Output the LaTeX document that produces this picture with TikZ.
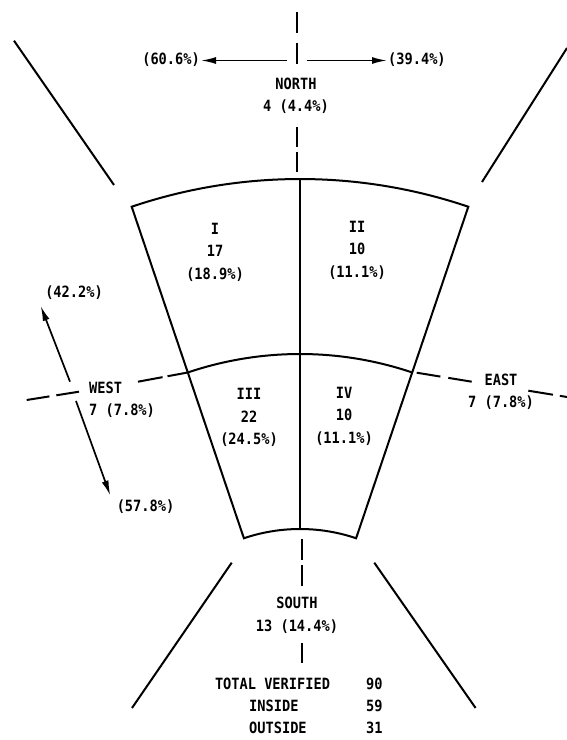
\documentclass[tikz,border=0pt]{standalone}
\usepackage{fontspec}
\newfontfamily\tw[FakeStretch=0.88]{DejaVu Sans Mono}
\usetikzlibrary{arrows.meta,calc}
\begin{document}
\begin{tikzpicture}[x=1pt,y=1pt,
  lbl/.style={font=\tw\bfseries\fontsize{15.5}{22.5}\selectfont, inner sep=1pt, align=center},
  sector/.style={line width=2pt, line join=miter},
  diag/.style={line width=2pt},
  axis/.style={line width=2pt},
  arr/.style={line width=1.7pt, -{Latex[length=15pt,width=7pt]}}]
\useasboundingbox (0,0) rectangle (567,740);
% sector
\coordinate (C) at (300,36);
\coordinate (TL) at ($(C)+(108.7:525)$);
\coordinate (TR) at ($(C)+(71.3:525)$);
\coordinate (TM) at ($(C)+(90:525)$);
\coordinate (ML) at ($(C)+(108.7:350)$);
\coordinate (MR) at ($(C)+(71.3:350)$);
\coordinate (BL) at ($(C)+(108.7:175)$);
\coordinate (BR) at ($(C)+(71.3:175)$);
\coordinate (BM) at ($(C)+(90:175)$);
\draw[sector] (TL) arc[start angle=108.7, end angle=71.3, radius=525]
  -- (BR) arc[start angle=71.3, end angle=108.7, radius=175] -- cycle;
\draw[sector] (ML) arc[start angle=108.7, end angle=71.3, radius=350];
\draw[sector] (TM) -- (BM);
% diagonal outer lines
\coordinate (ul1) at (14,699.3);  \coordinate (ul2) at (114,555);
\coordinate (ur1) at (482,558);   \coordinate (ur2) at (567,692);
\coordinate (ll1) at (231.7,177.3); \coordinate (ll2) at (132,32);
\coordinate (lr1) at (374.3,177.3); \coordinate (lr2) at (475.6,32);
\draw[diag] (ul1) -- (ul2);
\draw[diag] (ur1) -- (ur2);
\draw[diag] (ll1) -- (ll2);
\draw[diag] (lr1) -- (lr2);
% north axis
\coordinate (n1) at (296.5,728); \coordinate (n2) at (296.5,675);
\coordinate (n3) at (296.5,613); \coordinate (n4) at (296.5,568);
\draw[axis, dash pattern=on 21pt off 10pt] (n1) -- (n2);
\draw[axis, dash pattern=on 20pt off 5pt] (n3) -- (n4);
% south axis
\coordinate (s1) at (301.5,201); \coordinate (s2) at (301.5,154);
\coordinate (s3) at (301.5,97);  \coordinate (s4) at (301.5,77);
\draw[axis, dash pattern=on 21pt off 5pt] (s1) -- (s2);
\draw[axis] (s3) -- (s4);
% west axis
\coordinate (w1) at (26.7,340); \coordinate (w2) at (79,348.3);
\coordinate (w3) at (138,358.3);
\draw[axis, dash pattern=on 23pt off 7pt] (w1) -- (w2);
\draw[axis, dash pattern=on 25pt off 5pt] (w3) -- (ML);
% east axis
\coordinate (e1) at (416.7,367.3); \coordinate (e2) at (471.7,358.3);
\coordinate (e3) at (528.3,349.3); \coordinate (e4) at (567,343);
\draw[axis, dash pattern=on 24pt off 8pt] (e1) -- (e2);
\draw[axis, dash pattern=on 25pt off 7pt] (e3) -- (e4);
% labels
\node[lbl] (north) at (296,644) {NORTH\\4 (4.4\%)};
\node[lbl, anchor=east] (p606) at (201,680.5) {(60.6\%)};
\node[lbl, anchor=west] (p394) at (387,680.5) {(39.4\%)};
\node[lbl] (q1) at (215,488) {I\\17\\(18.9\%)};
\node[lbl] (q2) at (357,490) {II\\10\\(11.1\%)};
\node[lbl] (q3) at (249,322.4) {III\\22\\(24.5\%)};
\node[lbl] (q4) at (344,324) {IV\\10\\(11.1\%)};
\node[lbl, align=left, anchor=west] (west) at (88,340) {WEST\\7 (7.8\%)};
\node[lbl] (east) at (501,348) {EAST\\7 (7.8\%)};
\node[lbl] (south) at (297,124.5) {SOUTH\\13 (14.4\%)};
\node[lbl] (p422) at (74,447) {(42.2\%)};
\node[lbl] (p578) at (145.5,233) {(57.8\%)};
\node[lbl] (tv) at (272.5,56) {TOTAL VERIFIED};
\node[lbl, anchor=west] (ins) at (248,34) {INSIDE};
\node[lbl, anchor=west] (outs) at (248,12) {OUTSIDE};
\node[lbl, anchor=west] (n90) at (365,56) {90};
\node[lbl, anchor=west] (n59) at (365,34) {59};
\node[lbl, anchor=west] (n31) at (365,12) {31};
% arrows
\coordinate (nl) at (286.5,679.5);
\coordinate (nr) at (306.5,679.5);
\draw[arr] (nl) -- (nl -| p606.east);
\draw[arr] (nr) -- (nr -| p394.west);
\coordinate (wu0) at (70,358.3);  \coordinate (wu1) at (40.7,434);
\coordinate (wd0) at (76,339);    \coordinate (wd1) at (110.3,244.5);
\draw[arr] (wu0) -- (wu1);
\draw[arr] (wd0) -- (wd1);
\end{tikzpicture}
\end{document}
